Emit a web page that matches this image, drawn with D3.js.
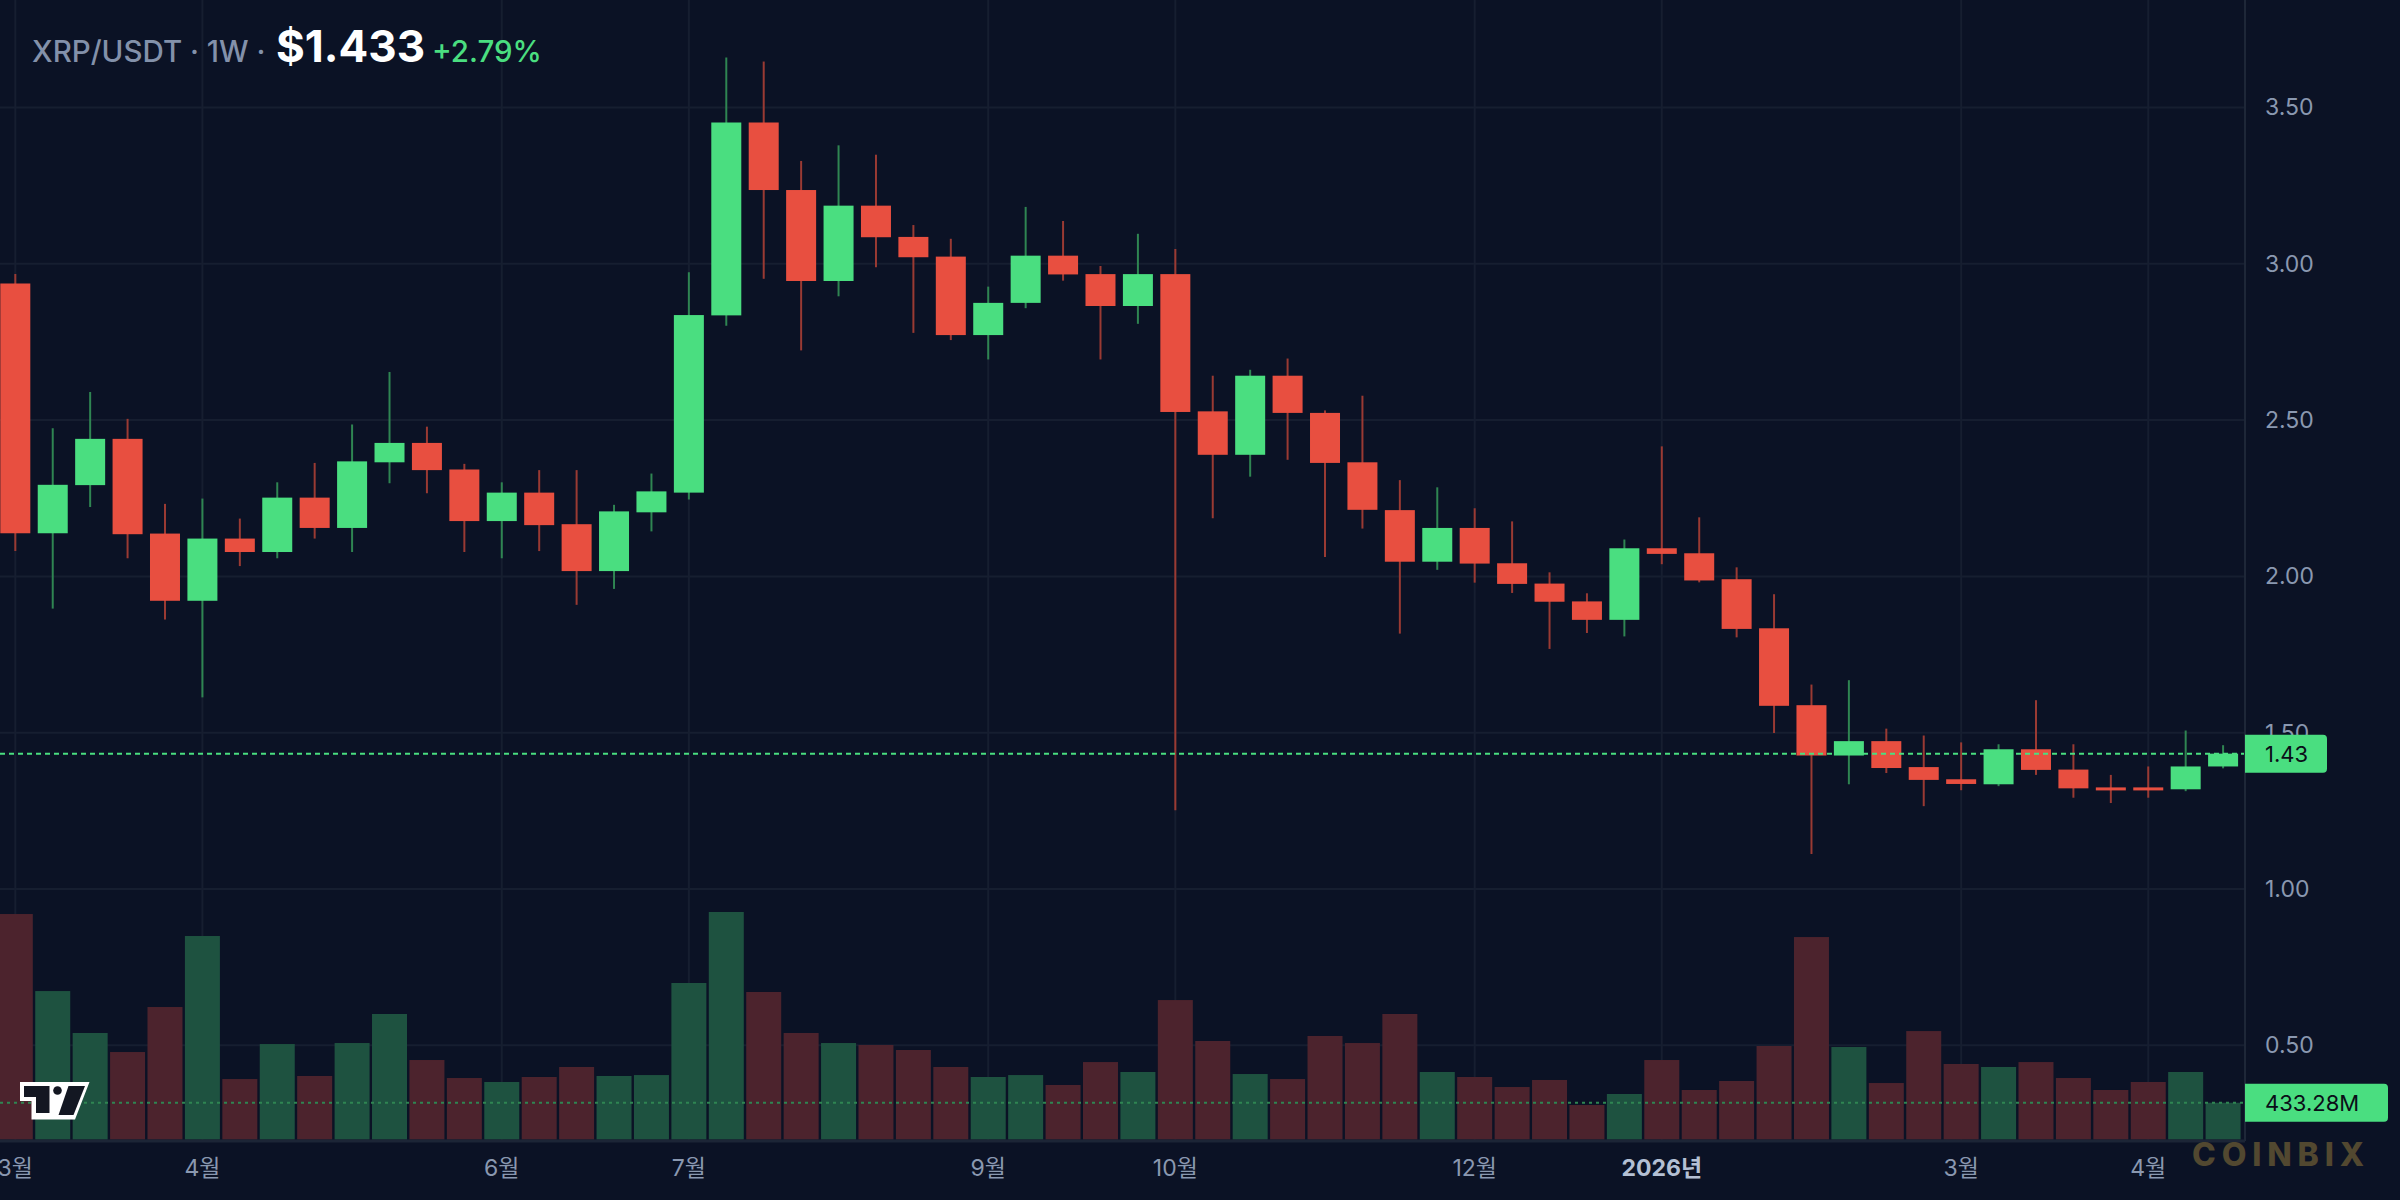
<!DOCTYPE html>
<html>
<head>
<meta charset="utf-8">
<script src="https://cdn.jsdelivr.net/npm/d3@7"></script>
<style>
  html, body { margin: 0; padding: 0; background: #0b1225; }
  svg { display: block; }
</style>
</head>
<body>
<svg id="chart"></svg>
<script>
// data (weekly XRP/USDT candles)
const opens = [2.937, 2.138, 2.292, 2.440, 2.137, 1.922, 2.121, 2.078, 2.252, 2.155,
  2.365, 2.427, 2.342, 2.177, 2.268, 2.167, 2.017, 2.205, 2.268, 2.835,
  3.452, 3.236, 2.945, 3.186, 3.086, 3.023, 2.772, 2.875, 3.026, 2.967,
  2.865, 2.967, 2.528, 2.389, 2.642, 2.523, 2.365, 2.212, 2.047, 2.155,
  2.042, 1.977, 1.920, 1.861, 2.090, 2.074, 1.991, 1.834, 1.588, 1.427,
  1.473, 1.390, 1.351, 1.335, 1.447, 1.382, 1.325, 1.325, 1.319, 1.392];
const highs = [2.967, 2.474, 2.590, 2.504, 2.232, 2.249, 2.185, 2.301, 2.363, 2.486,
  2.654, 2.479, 2.360, 2.301, 2.340, 2.340, 2.229, 2.329, 2.973, 3.660,
  3.647, 3.329, 3.379, 3.349, 3.124, 3.080, 2.927, 3.182, 3.137, 2.993,
  3.096, 3.047, 2.642, 2.661, 2.697, 2.531, 2.578, 2.308, 2.285, 2.218,
  2.176, 2.013, 1.946, 2.118, 2.416, 2.189, 2.029, 1.943, 1.654, 1.668,
  1.513, 1.491, 1.469, 1.463, 1.604, 1.463, 1.365, 1.392, 1.507, 1.460];
const lows = [2.081, 1.897, 2.222, 2.058, 1.862, 1.613, 2.033, 2.058, 2.121, 2.078,
  2.298, 2.266, 2.078, 2.058, 2.081, 1.909, 1.960, 2.144, 2.246, 2.802,
  2.952, 2.723, 2.896, 2.989, 2.779, 2.756, 2.694, 2.858, 2.946, 2.694,
  2.808, 1.252, 2.186, 2.319, 2.373, 2.062, 2.153, 1.817, 2.021, 1.980,
  1.947, 1.768, 1.819, 1.808, 2.039, 1.981, 1.805, 1.499, 1.112, 1.335,
  1.371, 1.265, 1.316, 1.329, 1.365, 1.292, 1.275, 1.292, 1.313, 1.386];
const closes = [2.138, 2.293, 2.440, 2.135, 1.922, 2.121, 2.078, 2.252, 2.155, 2.368,
  2.427, 2.340, 2.177, 2.268, 2.164, 2.017, 2.208, 2.272, 2.836, 3.452,
  3.236, 2.945, 3.186, 3.085, 3.021, 2.772, 2.875, 3.026, 2.966, 2.865,
  2.967, 2.526, 2.389, 2.642, 2.523, 2.363, 2.213, 2.047, 2.155, 2.041,
  1.976, 1.919, 1.861, 2.090, 2.072, 1.987, 1.832, 1.586, 1.427, 1.473,
  1.387, 1.349, 1.336, 1.447, 1.381, 1.322, 1.320, 1.317, 1.392, 1.433];
// volume in millions
const volumes = [2655, 1748, 1254, 1030, 1560, 2396, 712, 1124, 748, 1136,
  1478, 936, 724, 677, 736, 854, 748, 759, 1843, 2679,
  1737, 1254, 1136, 1113, 1054, 854, 736, 759, 642, 912,
  795, 1642, 1160, 771, 712, 1219, 1136, 1478, 795, 736,
  618, 701, 406, 536, 936, 583, 689, 1101, 2384, 1089,
  665, 1277, 889, 854, 912, 724, 583, 677, 795, 433.28];
const priceTicks = [0.5, 1.0, 1.5, 2.0, 2.5, 3.0, 3.5];
const dateTicks = [
  {date: "2025-03-03", label: "3월"},
  {date: "2025-04-07", label: "4월"},
  {date: "2025-06-02", label: "6월"},
  {date: "2025-07-07", label: "7월"},
  {date: "2025-09-01", label: "9월"},
  {date: "2025-10-06", label: "10월"},
  {date: "2025-12-01", label: "12월"},
  {date: "2026-01-05", label: "2026년"},
  {date: "2026-03-02", label: "3월"},
  {date: "2026-04-06", label: "4월"}
];
const lastPrice = 1.433;
const lastVolume = 433.28;
// week start dates for each candle
const parseDay = d3.timeParse("%Y-%m-%d");
const fmtDay = d3.timeFormat("%Y-%m-%d");
const weeks = d3.timeMonday.range(parseDay("2025-03-03"), parseDay("2026-04-21")).map(fmtDay);
const candles = weeks.map((w, i) => ({
  week: w, o: opens[i], h: highs[i], l: lows[i], c: closes[i], v: volumes[i]
}));

// layout / colours
const W = 2400, H = 1200;
const plotRight = 2245, plotBottom = 1141;
const bg = "#0b1225";
const gridColor = "#161e30";
const upColor = "#4ade80", downColor = "#e84f40";
const upWick = "#2f8552", downWick = "#9a3a33";
const upVol = "#1e5240", downVol = "#4c232d";
const axisText = "#8a98b0";
const fontFam = "Inter, 'Noto Sans CJK KR', 'Noto Sans', sans-serif";

const svg = d3.select("#chart").attr("width", W).attr("height", H)
  .attr("font-family", fontFam);
svg.append("rect").attr("width", W).attr("height", H).attr("fill", bg);

// scales
const x = d3.scaleBand().domain(weeks).range([-3.4, 2241.8]).padding(0);
const xc = d => x(d) + x.bandwidth() / 2;
const y = d3.scaleLinear().domain([1, 3.5]).range([889, 107.5]);
const yVol = d3.scaleLinear().domain([0, 2700]).range([1139.5, 910.2]);

// grid
const grid = svg.append("g");
grid.selectAll("line.h").data(priceTicks).join("line")
  .attr("x1", 0).attr("x2", plotRight)
  .attr("y1", d => y(d)).attr("y2", d => y(d))
  .attr("stroke", gridColor).attr("stroke-width", 2);
grid.selectAll("line.v").data(dateTicks).join("line")
  .attr("x1", d => xc(d.date)).attr("x2", d => xc(d.date))
  .attr("y1", 0).attr("y2", plotBottom)
  .attr("stroke", gridColor).attr("stroke-width", 2);

// volume bars
const volW = 35;
svg.append("g").selectAll("rect").data(candles).join("rect")
  .attr("x", d => xc(d.week) - volW / 2)
  .attr("width", volW)
  .attr("y", d => yVol(d.v))
  .attr("height", d => yVol(0) - yVol(d.v))
  .attr("fill", d => d.c >= d.o ? upVol : downVol);

// volume last-value line
svg.append("line")
  .attr("x1", 0).attr("x2", plotRight)
  .attr("y1", yVol(lastVolume)).attr("y2", yVol(lastVolume))
  .attr("stroke", "#2f8552").attr("stroke-width", 2)
  .attr("stroke-dasharray", "3,4");

// candles
const bodyW = 30;
const candleG = svg.append("g");
candleG.selectAll("line").data(candles).join("line")
  .attr("x1", d => xc(d.week)).attr("x2", d => xc(d.week))
  .attr("y1", d => y(d.h)).attr("y2", d => y(d.l))
  .attr("stroke", d => d.c >= d.o ? upWick : downWick)
  .attr("stroke-width", 2);
candleG.selectAll("rect").data(candles).join("rect")
  .attr("x", d => xc(d.week) - bodyW / 2)
  .attr("width", bodyW)
  .attr("y", d => y(Math.max(d.o, d.c)))
  .attr("height", d => Math.max(3, Math.abs(y(d.o) - y(d.c))))
  .attr("fill", d => d.c >= d.o ? upColor : downColor);

// last price line
svg.append("line")
  .attr("x1", 0).attr("x2", plotRight)
  .attr("y1", y(lastPrice)).attr("y2", y(lastPrice))
  .attr("stroke", upColor).attr("stroke-width", 2)
  .attr("stroke-dasharray", "5,4");

// borders
svg.append("line").attr("x1", plotRight).attr("x2", plotRight)
  .attr("y1", 0).attr("y2", plotBottom)
  .attr("stroke", "#1e2738").attr("stroke-width", 2);
svg.append("line").attr("x1", 0).attr("x2", plotRight)
  .attr("y1", plotBottom).attr("y2", plotBottom)
  .attr("stroke", "#1c2536").attr("stroke-width", 3);

// right price axis
const yAxis = d3.axisRight(y).tickValues(priceTicks)
  .tickFormat(d3.format(".2f")).tickSize(0).tickPadding(20);
const yAxisG = svg.append("g").attr("transform", `translate(${plotRight},0)`).call(yAxis);
yAxisG.select(".domain").remove();
yAxisG.selectAll("text").attr("fill", axisText).attr("font-size", 23)
  .attr("font-family", fontFam);

// bottom time axis
const labelByDate = new Map(dateTicks.map(d => [d.date, d.label]));
const xAxis = d3.axisBottom(x).tickValues(dateTicks.map(d => d.date))
  .tickFormat(d => labelByDate.get(d)).tickSize(0);
const xAxisG = svg.append("g").attr("transform", `translate(0,${plotBottom})`).call(xAxis);
xAxisG.select(".domain").remove();
xAxisG.selectAll("text")
  .attr("y", 27).attr("dy", "0.35em")
  .attr("fill", d => labelByDate.get(d) === "2026년" ? "#b4c0d4" : axisText)
  .attr("font-weight", d => labelByDate.get(d) === "2026년" ? 700 : 400)
  .attr("font-size", 23)
  .attr("font-family", fontFam);

// price tag
const tagG = svg.append("g");
tagG.append("path")
  .attr("d", `M${plotRight},${y(lastPrice) - 19} h78 q4,0 4,4 v30 q0,4 -4,4 h-78 z`)
  .attr("fill", upColor);
tagG.append("text").attr("x", 2265).attr("y", y(lastPrice)).attr("dy", "0.36em")
  .attr("font-size", 22).attr("fill", "#0a0f18").text(lastPrice.toFixed(2));
// volume tag
tagG.append("path")
  .attr("d", `M${plotRight},${yVol(lastVolume) - 19} h139 q4,0 4,4 v30 q0,4 -4,4 h-139 z`)
  .attr("fill", upColor);
tagG.append("text").attr("x", 2265).attr("y", yVol(lastVolume)).attr("dy", "0.36em")
  .attr("font-size", 22).attr("fill", "#0a0f18").text(lastVolume.toFixed(2) + "M");

// title
svg.append("text").attr("x", 32).attr("y", 62).attr("font-size", 29.5)
  .attr("font-weight", 500).attr("fill", "#8391aa").text("XRP/USDT · 1W ·");
svg.append("text").attr("x", 276).attr("y", 62).attr("font-size", 44)
  .attr("font-weight", 700).attr("fill", "#ffffff").text("$1.433");
svg.append("text").attr("x", 432).attr("y", 62).attr("font-size", 29.5)
  .attr("font-weight", 500).attr("fill", upColor).text("+2.79%");

// watermark
svg.append("text").attr("x", 2192).attr("y", 1166).attr("font-size", 32)
  .attr("font-weight", 800).attr("fill", "#524830")
  .attr("textLength", 172).attr("lengthAdjust", "spacing").text("COINBIX");

// logo
const logo = svg.append("g");
logo.append("path")
  .attr("d", "M20,1082 L89.5,1082 L75,1119.5 L31.5,1119.5 L31.5,1101 L20,1101 Z")
  .attr("fill", "#ffffff");
logo.append("path")
  .attr("d", "M24,1086 L49.5,1086 L49.5,1113 L36,1113 L36,1097 L24,1097 Z")
  .attr("fill", "#131722");
logo.append("circle").attr("cx", 57.5).attr("cy", 1090.5).attr("r", 4.3)
  .attr("fill", "#131722");
logo.append("path")
  .attr("d", "M68.5,1086 L85,1086 L73.5,1115 L58.5,1115 Z")
  .attr("fill", "#131722");
</script>
</body>
</html>
